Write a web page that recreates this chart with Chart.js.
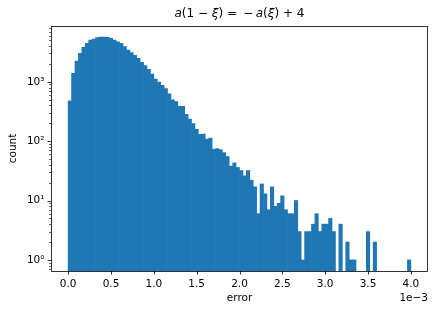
<!DOCTYPE html>
<html>
<head>
<meta charset="utf-8">
<script src="https://cdn.jsdelivr.net/npm/chart.js@4.4.0/dist/chart.umd.min.js"></script>
<style>
  html, body { margin: 0; padding: 0; background: #fff; }
</style>
</head>
<body>
<canvas id="myChart" width="436" height="313"></canvas>
<script>
// histogram bins, x in units of 1e-3
const binStart = 0.0;
const binWidth = 0.04;
const counts = [
  480, 1390, 2240, 3020, 3800, 4450, 5060, 5260, 5540, 5680,
  5680, 5630, 5400, 5060, 4730, 4450, 3900, 3430, 3100, 2780,
  2490, 2130, 1870, 1620, 1350, 1110, 990, 873, 765, 624,
  497, 463, 386, 386, 284, 236, 197, 158, 130, 132,
  108, 113, 73, 75, 72, 64, 55, 38, 43, 36,
  32, 26, 32, 22, 17, 6, 19, 13, 7, 17,
  8, 9, 12, 7, 6, 6, 10, 3, 1, 3,
  3, 4, 6, 3, 4, 4, 5, 3, 0, 4,
  0, 2, 1, 1, 0, 0, 0, 3, 0, 2,
  0, 0, 0, 0, 0, 0, 0, 0, 0, 1,
];
const xTickValues = [0, 0.5, 1, 1.5, 2, 2.5, 3, 3.5, 4];
const xTickLabels = ["0.0", "0.5", "1.0", "1.5", "2.0", "2.5", "3.0", "3.5", "4.0"];
const yTickValues = [1, 10, 100, 1000];
const yTickLabels = ["10\u2070", "10\u00b9", "10\u00b2", "10\u00b3"];

const FONT = "DejaVu Sans";
const barColor = "#1f77b4";

const points = counts.map((c, i) => ({
  x: binStart + (i + 0.5) * binWidth,
  y: c > 0 ? c : null,
}));

// minor log ticks between the decades
const yMinor = [];
[0.1, 1, 10, 100, 1000].forEach((d) => {
  for (let m = 2; m <= 9; m++) yMinor.push(m * d);
});

const decorations = {
  id: "decorations",
  afterDraw(chart) {
    const ctx = chart.ctx;
    const a = chart.chartArea;
    const xs = chart.scales.x;
    const ys = chart.scales.y;
    ctx.save();
    ctx.strokeStyle = "#000";

    // ticks
    ctx.lineWidth = 0.8;
    xTickValues.forEach((v) => {
      const px = Math.round(xs.getPixelForValue(v)) + 0.5;
      ctx.beginPath();
      ctx.moveTo(px, a.bottom);
      ctx.lineTo(px, a.bottom + 3.5);
      ctx.stroke();
    });
    yTickValues.forEach((v) => {
      const py = Math.round(ys.getPixelForValue(v)) + 0.5;
      ctx.beginPath();
      ctx.moveTo(a.left, py);
      ctx.lineTo(a.left - 3.5, py);
      ctx.stroke();
    });
    ctx.lineWidth = 0.6;
    yMinor.forEach((v) => {
      if (v < ys.min || v > ys.max) return;
      const py = Math.round(ys.getPixelForValue(v)) + 0.5;
      ctx.beginPath();
      ctx.moveTo(a.left, py);
      ctx.lineTo(a.left - 2, py);
      ctx.stroke();
    });

    // spines
    ctx.lineWidth = 0.8;
    ctx.strokeRect(a.left + 0.5, a.top + 0.5, a.right - a.left - 1, a.bottom - a.top);

    // labels
    ctx.fillStyle = "#000";
    ctx.textBaseline = "middle";
    ctx.font = "10.5px '" + FONT + "'";
    ctx.textAlign = "center";
    ctx.fillText("error", (a.left + a.right) / 2, 298);
    ctx.textAlign = "right";
    ctx.fillText("1e\u22123", a.right, 298);
    ctx.save();
    ctx.translate(13, (a.top + a.bottom) / 2);
    ctx.rotate(-Math.PI / 2);
    ctx.textAlign = "center";
    ctx.fillText("count", 0, 0);
    ctx.restore();

    // title with math italic parts
    const parts = [
      ["a", true], ["(1 \u2212 ", false], ["\u03be", true], [") = \u2009\u2212\u2009", false],
      ["a", true], ["(", false], ["\u03be", true], [") + 4", false],
    ];
    const size = 12;
    let total = 0;
    parts.forEach((p) => {
      ctx.font = (p[1] ? "italic " : "") + size + "px '" + FONT + "'";
      total += ctx.measureText(p[0]).width;
    });
    let x = (a.left + a.right) / 2 - total / 2;
    ctx.textAlign = "left";
    parts.forEach((p) => {
      ctx.font = (p[1] ? "italic " : "") + size + "px '" + FONT + "'";
      ctx.fillText(p[0], x, 14);
      x += ctx.measureText(p[0]).width;
    });
    ctx.restore();
  },
};

const config = {
  type: "bar",
  data: {
    datasets: [
      {
        data: points,
        backgroundColor: barColor,
        borderWidth: 0,
        barPercentage: 1.0,
        categoryPercentage: 1.0,
      },
    ],
  },
  options: {
    responsive: false,
    animation: false,
    layout: { padding: { left: 0, top: 26, right: 8, bottom: 0 } },
    plugins: {
      legend: { display: false },
      title: { display: false },
      tooltip: { enabled: false },
    },
    scales: {
      x: {
        type: "linear",
        offset: false,
        min: -0.2,
        max: 4.2,
        grid: { display: false, offset: false, drawTicks: true, tickLength: 3.5 },
        border: { display: false },
        afterBuildTicks: (scale) => {
          scale.ticks = xTickValues.map((v) => ({ value: v }));
        },
        afterFit: (scale) => {
          scale.height = 42;
          scale.paddingLeft = 0;
          scale.paddingRight = 0;
        },
        ticks: {
          autoSkip: false,
          maxRotation: 0,
          padding: 3,
          color: "#000",
          font: { family: FONT, size: 10.5 },
          callback: (v) => {
            const i = xTickValues.indexOf(v);
            return i >= 0 ? xTickLabels[i] : "";
          },
        },
      },
      y: {
        type: "logarithmic",
        min: 0.65,
        max: 8700,
        grid: { display: false, drawTicks: true, tickLength: 3.5 },
        border: { display: false },
        afterBuildTicks: (scale) => {
          scale.ticks = yTickValues.map((v) => ({ value: v }));
        },
        afterFit: (scale) => {
          scale.width = 51;
          scale.paddingTop = 0;
          scale.paddingBottom = 0;
        },
        ticks: {
          autoSkip: false,
          padding: 3,
          color: "#000",
          font: { family: FONT, size: 10.5 },
          callback: (v) => {
            const i = yTickValues.indexOf(v);
            return i >= 0 ? yTickLabels[i] : "";
          },
        },
      },
    },
  },
  plugins: [decorations],
};

var myChart = new Chart(document.getElementById("myChart"), config);
</script>
</body>
</html>
